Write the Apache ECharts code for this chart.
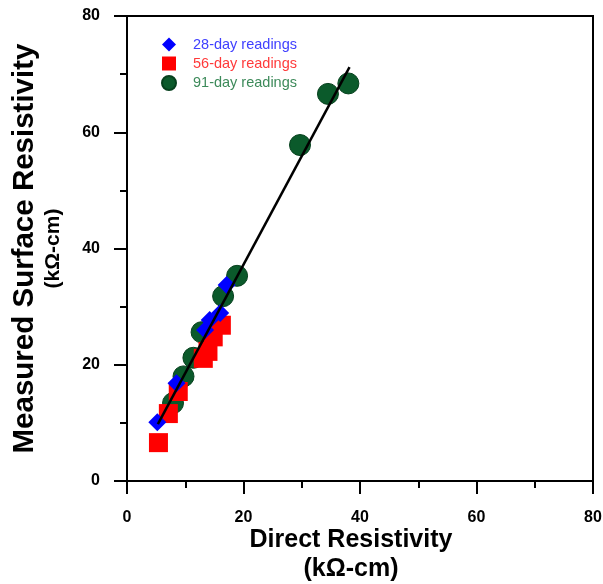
<!DOCTYPE html>
<html><head><meta charset="utf-8">
<script src="https://cdn.jsdelivr.net/npm/echarts@6/dist/echarts.min.js"></script>
<style>html,body{margin:0;padding:0;background:#fff}#c{width:603px;height:584px}</style>
</head><body><div id="c"></div>
<script>
const xTicks = [0, 20, 40, 60, 80];
const seriesNames = ['28-day readings', '56-day readings', '91-day readings'];
const day28 = [[5.2,10.1],[8.5,16.8],[13.4,26.0],[14.2,27.7],[16.0,28.9],[17.1,33.7]];
const day56 = [[5.4,6.6],[7.1,11.6],[8.8,15.4],[13.1,21.1],[13.9,22.3],[14.8,24.8],[16.2,26.8]];
const day91 = [[7.9,13.4],[9.7,18.0],[11.4,21.2],[12.8,25.6],[16.5,31.8],[18.9,35.3],[29.7,57.8],[34.5,66.6],[38.0,68.4]];
const fitLine = [[5.3,9.8],[38.2,71.2]];

const chart = echarts.init(document.getElementById('c'));
const FF = 'Liberation Sans, Arial, sans-serif';
const bold = {fontFamily:FF, fontWeight:'bold', color:'#000'};
chart.setOption({
  animation:false,
  grid:{left:127,right:10,top:16,bottom:103,show:true,borderColor:'#000',borderWidth:2,
        containLabel:false, outerBoundsMode:'none'},
  legend:{
    orient:'vertical', left:156, top:32, itemGap:4, itemWidth:14, itemHeight:14,
    textStyle:{fontFamily:FF, fontSize:14.5, lineHeight:15, padding:[0,0,0,12]},
    data:[
      {name:seriesNames[0], textStyle:{color:'#4040ff'}},
      {name:seriesNames[1], textStyle:{color:'#ff3a3a'}},
      {name:seriesNames[2], textStyle:{color:'#3d8a5a'}}
    ]
  },
  xAxis:{
    type:'value', min:xTicks[0], max:xTicks[xTicks.length-1], interval:20,
    splitLine:{show:false},
    axisLine:{lineStyle:{color:'#000',width:2}},
    axisTick:{length:13,lineStyle:{color:'#000',width:2}},
    minorTick:{show:true,splitNumber:2,length:7,lineStyle:{color:'#000',width:2}},
    axisLabel:Object.assign({fontSize:16,margin:29},bold),
    name:'Direct Resistivity\n(kΩ-cm)', nameLocation:'middle', nameGap:45, nameMoveOverlap:false,
    nameTextStyle:Object.assign({fontSize:25,lineHeight:29,padding:[0,18,0,0]},bold)
  },
  yAxis:{
    type:'value', min:0, max:80, interval:20,
    splitLine:{show:false},
    axisLine:{lineStyle:{color:'#000',width:2}},
    axisTick:{length:13,lineStyle:{color:'#000',width:2}},
    minorTick:{show:true,splitNumber:2,length:7,lineStyle:{color:'#000',width:2}},
    axisLabel:Object.assign({fontSize:16,margin:27},bold),
    name:'{a|Measured Surface Resistivity}\n{b|(kΩ-cm)}', nameLocation:'middle', nameGap:61, nameRotate:90,
    nameMoveOverlap:false,
    nameTextStyle:Object.assign({
      rich:{
        a:Object.assign({fontSize:29.5,lineHeight:30},bold),
        b:Object.assign({fontSize:21,lineHeight:26},bold)
      }
    },bold)
  },
  series:[
    {name:seriesNames[2], type:'scatter', data:day91, symbol:'circle', symbolSize:21, z:2,
     itemStyle:{color:'#0b5a2b',borderColor:'#06401d',borderWidth:1,opacity:1}},
    {name:seriesNames[1], type:'scatter', data:day56, symbol:'rect', symbolSize:19, z:3,
     itemStyle:{color:'#ff0000',opacity:1}},
    {name:seriesNames[0], type:'scatter', data:day28, symbol:'diamond', symbolSize:[18,18], z:4,
     itemStyle:{color:'#0000ff',opacity:1}},
    {name:'fit', type:'line', data:fitLine, symbol:'none', z:5,
     lineStyle:{color:'#000',width:2.5}}
  ]
});
</script></body></html>
